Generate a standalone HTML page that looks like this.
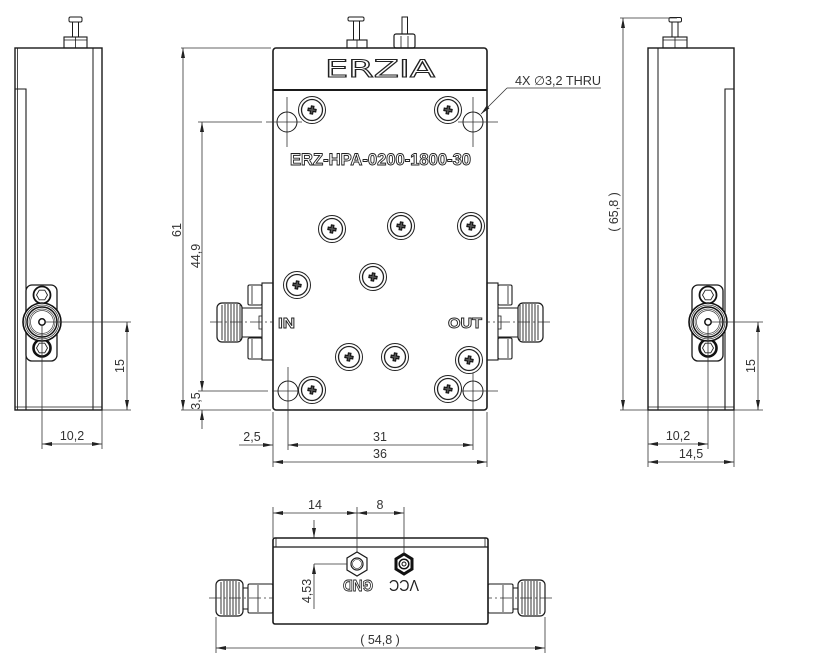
<!DOCTYPE html>
<html><head><meta charset="utf-8"><style>
html,body{margin:0;padding:0;background:#fff;}
svg{display:block;}
.o{fill:none;stroke:#1a1a1a;stroke-width:1.4;}
.t{fill:none;stroke:#1a1a1a;stroke-width:0.8;}
.d{fill:none;stroke:#333;stroke-width:0.8;}
.c{fill:none;stroke:#333;stroke-width:0.7;stroke-dasharray:12 3 2 3;}
.dim{font-family:"Liberation Sans",Arial,sans-serif;font-size:12.5px;fill:#333;}
</style></head><body>
<svg width="816" height="666" viewBox="0 0 816 666" xmlns="http://www.w3.org/2000/svg">
<defs>
<marker id="ar" viewBox="0 0 10 4" refX="10" refY="2" markerWidth="10" markerHeight="4" markerUnits="userSpaceOnUse" orient="auto-start-reverse"><path d="M0,0L10,2L0,4z" fill="#222"/></marker>
<g id="scr">
<circle r="13.5" fill="#fff" stroke="#222" stroke-width="1"/>
<circle r="10.5" fill="none" stroke="#222" stroke-width="1.3"/>
<path d="M-4,-1.3L-1.3,-1.3L-1.3,-4L1.3,-4L1.3,-1.3L4,-1.3L4,1.3L1.3,1.3L1.3,4L-1.3,4L-1.3,1.3L-4,1.3Z" fill="#555" stroke="#111" stroke-width="1.1" transform="rotate(10)"/>
</g>
<g id="sidecon">
<rect x="-16" y="-37" width="31" height="76" rx="6" fill="#fff" stroke="#1a1a1a" stroke-width="1.3"/>
<circle cx="0" cy="-27" r="8.5" fill="#fff" stroke="#111" stroke-width="1.8"/>
<polygon points="5.5,-27 2.75,-22.2 -2.75,-22.2 -5.5,-27 -2.75,-31.8 2.75,-31.8" fill="none" stroke="#222" stroke-width="0.9"/>
<circle cx="0" cy="26" r="8.5" fill="#fff" stroke="#111" stroke-width="2.6"/>
<polygon points="5.5,26 2.75,30.8 -2.75,30.8 -5.5,26 -2.75,21.2 2.75,21.2" fill="none" stroke="#222" stroke-width="0.9"/>
<circle r="19" fill="#fff" stroke="#111" stroke-width="1.6"/>
<circle r="17" fill="none" stroke="#333" stroke-width="0.8"/>
<circle r="15" fill="none" stroke="#111" stroke-width="1.5"/>
<circle r="13" fill="none" stroke="#444" stroke-width="0.7"/>
<circle r="11.5" fill="none" stroke="#444" stroke-width="0.7"/>
<circle r="3.2" fill="#fff" stroke="#111" stroke-width="1.5"/>
</g>
</defs>

<!-- ============ LEFT SIDE VIEW ============ -->
<rect x="15" y="48" width="87" height="362" class="o"/>
<line x1="17.5" y1="48" x2="17.5" y2="410" class="t"/>
<line x1="93" y1="48" x2="93" y2="410" class="o" style="stroke-width:1"/>
<line x1="15" y1="407" x2="102" y2="407" class="t"/>
<polyline points="15,89 26,89 26,410" class="o" style="stroke-width:1.1"/>
<rect x="64" y="37" width="23" height="11" class="o" style="stroke-width:1.1" fill="#fff"/>
<line x1="64" y1="40" x2="87" y2="40" class="t"/>
<line x1="75.5" y1="37" x2="75.5" y2="48" class="t"/>
<rect x="72.5" y="22" width="6" height="15" class="o" style="stroke-width:1"/>
<rect x="69" y="17" width="13" height="5" rx="1.5" class="o" style="stroke-width:1"/>
<use href="#sidecon" x="42" y="322"/>
<line x1="45" y1="322" x2="131" y2="322" class="d"/>
<line x1="102" y1="410" x2="131" y2="410" class="d"/>
<path d="M127,322L127,410" class="d" marker-start="url(#ar)" marker-end="url(#ar)"/>
<text class="dim" transform="translate(124,366) rotate(-90)" text-anchor="middle">15</text>
<line x1="42" y1="325" x2="42" y2="449" class="d"/>
<line x1="102" y1="410" x2="102" y2="449" class="d"/>
<path d="M42,444L102,444" class="d" marker-start="url(#ar)" marker-end="url(#ar)"/>
<text class="dim" x="72" y="440" text-anchor="middle">10,2</text>

<!-- ============ MAIN VIEW ============ -->
<rect x="273" y="48" width="214" height="362" rx="3" class="o" style="stroke-width:1.6" fill="#fff"/>
<line x1="273" y1="90" x2="487" y2="90" class="o" style="stroke-width:2"/>
<rect x="348" y="17" width="16" height="4" rx="1.5" class="o" style="stroke-width:1"/>
<rect x="353.5" y="21" width="6" height="19" class="o" style="stroke-width:1"/>
<rect x="347" y="40" width="20" height="8" class="o" style="stroke-width:1.1"/>
<line x1="357" y1="40" x2="357" y2="48" class="t"/>
<rect x="402" y="17" width="5.5" height="17" class="o" style="stroke-width:1"/>
<rect x="394" y="34" width="21" height="14" rx="2" class="o" style="stroke-width:1.2"/>
<line x1="401" y1="36" x2="401" y2="48" class="t"/>
<line x1="408" y1="36" x2="408" y2="48" class="t"/>
<text x="325" y="77" textLength="110" lengthAdjust="spacingAndGlyphs" font-family="'DejaVu Sans','Liberation Sans',sans-serif" font-size="24" fill="#fff" stroke="#222" stroke-width="1">ERZIA</text>
<circle cx="287" cy="122" r="10" class="t" style="stroke-width:1"/>
<circle cx="473" cy="122" r="10" class="t" style="stroke-width:1"/>
<circle cx="288" cy="391" r="10" class="t" style="stroke-width:1"/>
<circle cx="473" cy="391" r="10" class="t" style="stroke-width:1"/>
<line x1="287" y1="97" x2="287" y2="147" class="d"/>
<line x1="473" y1="97" x2="473" y2="147" class="d"/>
<line x1="198" y1="122" x2="262" y2="122" class="d"/>
<line x1="266" y1="122" x2="302" y2="122" class="d"/>
<line x1="458" y1="122" x2="498" y2="122" class="d"/>
<line x1="198" y1="391" x2="268" y2="391" class="d"/>
<line x1="272" y1="391" x2="300" y2="391" class="d"/>
<line x1="460" y1="391" x2="498" y2="391" class="d"/>
<line x1="288" y1="367" x2="288" y2="450" class="d"/>
<line x1="473" y1="362" x2="473" y2="450" class="d"/>
<path d="M507,88L601,88" class="d"/>
<path d="M507,88L481,114" class="d" marker-end="url(#ar)"/>
<text class="dim" x="515" y="85" textLength="86" lengthAdjust="spacingAndGlyphs">4X ∅3,2 THRU</text>
<use href="#scr" x="312" y="110"/>
<use href="#scr" x="448" y="110"/>
<use href="#scr" x="332" y="229"/>
<use href="#scr" x="401" y="226"/>
<use href="#scr" x="471" y="226"/>
<use href="#scr" x="297" y="285"/>
<use href="#scr" x="373" y="277"/>
<use href="#scr" x="349" y="357"/>
<use href="#scr" x="395" y="357"/>
<use href="#scr" x="469" y="360"/>
<use href="#scr" x="312" y="390"/>
<use href="#scr" x="448" y="389"/>
<text x="290" y="165" textLength="181" lengthAdjust="spacingAndGlyphs" font-family="'Liberation Sans',Arial,sans-serif" font-weight="bold" font-size="17" fill="#fff" stroke="#222" stroke-width="0.9">ERZ-HPA-0200-1800-30</text>
<g id="mcon">
<rect x="262" y="283" width="11" height="77" class="o" style="stroke-width:1.1" fill="#fff"/>
<rect x="248" y="285" width="14" height="20" rx="1.5" class="o" style="stroke-width:1.1" fill="#fff"/>
<rect x="248" y="338" width="14" height="21" rx="1.5" class="o" style="stroke-width:1.1" fill="#fff"/>
<line x1="252" y1="286" x2="252" y2="304" class="t"/>
<line x1="252" y1="339" x2="252" y2="358" class="t"/>
<polyline points="242,308 262,308" class="o" style="stroke-width:1"/>
<polyline points="242,337 262,337" class="o" style="stroke-width:1"/>
<polyline points="262,316 259,316 259,329 262,329" class="t"/>
<rect x="217" y="303" width="25" height="39" rx="5" class="o" style="stroke-width:1.2" fill="#fff"/>
<path d="M222,305V340M225,304V341M228,304V341M231,304V341M234,304V341M237,304V341M240,305V340" stroke="#222" stroke-width="0.9"/>
<line x1="210" y1="322" x2="273" y2="322" class="c"/>
</g>
<use href="#mcon" transform="translate(760,0) scale(-1,1)"/>
<text x="278" y="328" font-family="'Liberation Sans',Arial,sans-serif" font-weight="bold" font-size="15" fill="#fff" stroke="#222" stroke-width="0.9" textLength="17" lengthAdjust="spacingAndGlyphs">IN</text>
<text x="448" y="328" font-family="'Liberation Sans',Arial,sans-serif" font-weight="bold" font-size="15" fill="#fff" stroke="#222" stroke-width="0.9" textLength="34" lengthAdjust="spacingAndGlyphs">OUT</text>
<line x1="181" y1="48" x2="271" y2="48" class="d"/>
<line x1="181" y1="410" x2="271" y2="410" class="d"/>
<path d="M183,48L183,410" class="d" marker-start="url(#ar)" marker-end="url(#ar)"/>
<text class="dim" transform="translate(181,230) rotate(-90)" text-anchor="middle">61</text>
<path d="M202,122L202,391" class="d" marker-start="url(#ar)" marker-end="url(#ar)"/>
<text class="dim" transform="translate(200,256) rotate(-90)" text-anchor="middle">44,9</text>
<path d="M202,429L202,410" class="d" marker-end="url(#ar)"/>
<text class="dim" transform="translate(200,401) rotate(-90)" text-anchor="middle">3,5</text>
<line x1="273" y1="412" x2="273" y2="467" class="d"/>
<line x1="487" y1="412" x2="487" y2="467" class="d"/>
<path d="M239,445L273,445" class="d" marker-end="url(#ar)"/>
<text class="dim" x="252" y="441" text-anchor="middle">2,5</text>
<path d="M288,445L473,445" class="d" marker-start="url(#ar)" marker-end="url(#ar)"/>
<text class="dim" x="380" y="441" text-anchor="middle">31</text>
<path d="M273,462L487,462" class="d" marker-start="url(#ar)" marker-end="url(#ar)"/>
<text class="dim" x="380" y="458" text-anchor="middle">36</text>

<!-- ============ RIGHT SIDE VIEW ============ -->
<rect x="648" y="48" width="86" height="362" class="o"/>
<line x1="658" y1="48" x2="658" y2="410" class="o" style="stroke-width:1"/>
<line x1="648" y1="407" x2="734" y2="407" class="t"/>
<polyline points="734,89 725,89 725,410" class="o" style="stroke-width:1.1"/>
<rect x="663" y="37" width="24" height="11" class="o" style="stroke-width:1.1" fill="#fff"/>
<line x1="663" y1="40" x2="687" y2="40" class="t"/>
<line x1="675" y1="37" x2="675" y2="48" class="t"/>
<rect x="672" y="22" width="6" height="15" class="o" style="stroke-width:1"/>
<rect x="669" y="17.5" width="12.5" height="4.5" rx="1.5" class="o" style="stroke-width:1"/>
<use href="#sidecon" x="708" y="322"/>
<line x1="620" y1="18" x2="677" y2="18" class="d"/>
<line x1="620" y1="410" x2="648" y2="410" class="d"/>
<path d="M623,18L623,410" class="d" marker-start="url(#ar)" marker-end="url(#ar)"/>
<text class="dim" transform="translate(618,212) rotate(-90)" text-anchor="middle">( 65,8 )</text>
<line x1="711" y1="322" x2="763" y2="322" class="d"/>
<line x1="734" y1="410" x2="763" y2="410" class="d"/>
<path d="M758,322L758,410" class="d" marker-start="url(#ar)" marker-end="url(#ar)"/>
<text class="dim" transform="translate(755,366) rotate(-90)" text-anchor="middle">15</text>
<line x1="708" y1="325" x2="708" y2="449" class="d"/>
<line x1="648" y1="410" x2="648" y2="467" class="d"/>
<line x1="734" y1="410" x2="734" y2="467" class="d"/>
<path d="M648,444L708,444" class="d" marker-start="url(#ar)" marker-end="url(#ar)"/>
<text class="dim" x="678" y="440" text-anchor="middle">10,2</text>
<path d="M648,462L734,462" class="d" marker-start="url(#ar)" marker-end="url(#ar)"/>
<text class="dim" x="691" y="458" text-anchor="middle">14,5</text>

<!-- ============ BOTTOM VIEW ============ -->
<rect x="273" y="538" width="215" height="86" rx="2" class="o" style="stroke-width:1.6" fill="#fff"/>
<line x1="273" y1="547" x2="488" y2="547" class="o" style="stroke-width:1.2"/>
<line x1="276" y1="538" x2="276" y2="547" class="t"/>
<line x1="485" y1="538" x2="485" y2="547" class="t"/>
<polygon points="367,558 367,570 357,576 347,570 347,558 357,552" class="o" style="stroke-width:1.2" fill="#fff"/>
<circle cx="357" cy="564" r="6" class="o" style="stroke-width:1.2"/>
<circle cx="357" cy="564" r="4.5" class="t" style="stroke-width:0.6"/>
<polygon points="412,559 412,569 404,574 396,569 396,559 404,554" fill="#fff" stroke="#111" stroke-width="3"/>
<circle cx="404" cy="564" r="4.8" fill="#fff" stroke="#111" stroke-width="1.5"/>
<circle cx="404" cy="564" r="2" fill="none" stroke="#111" stroke-width="1"/>
<text transform="rotate(180,358,586.5)" x="358" y="593" text-anchor="middle" font-family="'Liberation Sans',Arial,sans-serif" font-weight="bold" font-size="16" fill="#fff" stroke="#222" stroke-width="0.9" textLength="30" lengthAdjust="spacingAndGlyphs">GND</text>
<text transform="rotate(180,404,586.5)" x="404" y="593" text-anchor="middle" font-family="'Liberation Sans',Arial,sans-serif" font-size="16" fill="#222" textLength="30" lengthAdjust="spacingAndGlyphs">VCC</text>
<g id="bcon">
<rect x="248" y="584" width="25" height="29" rx="1.5" class="o" style="stroke-width:1.1" fill="#fff"/>
<line x1="258" y1="585" x2="258" y2="612" class="t"/>
<rect x="243" y="588" width="5" height="21" class="o" style="stroke-width:1"/>
<rect x="216" y="580" width="27" height="36" rx="5" class="o" style="stroke-width:1.2" fill="#fff"/>
<path d="M221,582V614M224,581V615M227,581V615M230,581V615M233,581V615M236,581V615M239,582V614" stroke="#222" stroke-width="0.9"/>
<line x1="209" y1="598" x2="273" y2="598" class="c"/>
</g>
<use href="#bcon" transform="translate(761,0) scale(-1,1)"/>
<line x1="273" y1="507" x2="273" y2="538" class="d"/>
<line x1="357" y1="507" x2="357" y2="552" class="d"/>
<line x1="404" y1="507" x2="404" y2="554" class="d"/>
<path d="M273,513L357,513" class="d" marker-start="url(#ar)" marker-end="url(#ar)"/>
<path d="M357,513L404,513" class="d" marker-start="url(#ar)" marker-end="url(#ar)"/>
<text class="dim" x="315" y="509" text-anchor="middle">14</text>
<text class="dim" x="380" y="509" text-anchor="middle">8</text>
<line x1="314" y1="564" x2="347" y2="564" class="d"/>
<path d="M314,520L314,538" class="d" marker-end="url(#ar)"/>
<path d="M314,609L314,564" class="d" marker-end="url(#ar)"/>
<text class="dim" transform="translate(311,591) rotate(-90)" text-anchor="middle">4,53</text>
<line x1="216" y1="617" x2="216" y2="653" class="d"/>
<line x1="545" y1="617" x2="545" y2="653" class="d"/>
<path d="M216,648L545,648" class="d" marker-start="url(#ar)" marker-end="url(#ar)"/>
<text class="dim" x="380" y="644" text-anchor="middle">( 54,8 )</text>
</svg>
</body></html>
